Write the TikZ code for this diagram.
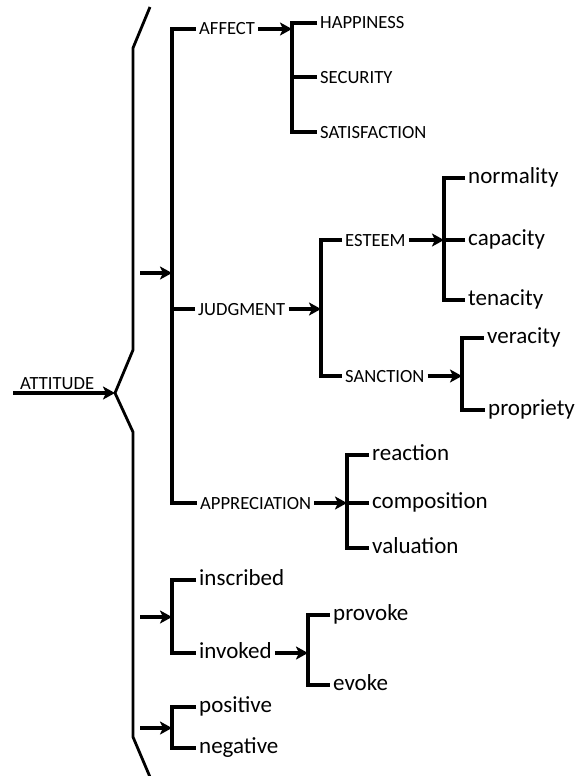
\documentclass[tikz,border=0pt]{standalone}
\usepackage{fontspec}
\setmainfont{Carlito}
\usetikzlibrary{arrows.meta}
\begin{document}
\begin{tikzpicture}[x=1pt,y=-1pt,
  br/.style={line width=3.3pt},
  arr/.style={line width=3.3pt,-{Stealth[length=12pt,width=13pt,inset=3pt]}},
  bracestroke/.style={line width=2.8pt},
  capslbl/.style={anchor=west,inner xsep=3pt,inner ysep=0pt,
    font=\fontsize{18.6}{20}\selectfont,text height=12pt,text depth=0pt},
  lowlbl/.style={anchor=west,inner xsep=3pt,inner ysep=0pt,
    font=\fontsize{23}{26}\selectfont,text height=10.7pt,text depth=0pt},
]
\path[use as bounding box] (0,0) rectangle (578,776);

% vertical positions of the bracket spines
\coordinate (mainbar) at (172,0);
\coordinate (bA) at (292,0);
\coordinate (bJ) at (321,0);
\coordinate (bE) at (444,0);
\coordinate (bS) at (462,0);
\coordinate (bP) at (347,0);
\coordinate (bV) at (308,0);

% labels
\node[capslbl,anchor=base west] (att) at (17,389) {ATTITUDE};
\node[capslbl] (affect) at (196,29) {AFFECT};
\node[capslbl] (judg) at (195,309) {JUDGMENT};
\node[capslbl] (appr) at (197,503) {APPRECIATION};
\node[capslbl] (hap) at (317,23) {HAPPINESS};
\node[capslbl] (sec) at (317,77) {SECURITY};
\node[capslbl] (sat) at (317,132) {SATISFACTION};
\node[capslbl] (est) at (342,240) {ESTEEM};
\node[capslbl] (sanc) at (342,376) {SANCTION};
\node[lowlbl] (norm) at (465,178) {normality};
\node[lowlbl] (capa) at (465,240) {capacity};
\node[lowlbl] (ten) at (465,300) {tenacity};
\node[lowlbl] (ver) at (484,338) {veracity};
\node[lowlbl] (prop) at (485,410) {propriety};
\node[lowlbl] (reac) at (369,455) {reaction};
\node[lowlbl] (comp) at (369,503) {composition};
\node[lowlbl] (val) at (369,548) {valuation};
\node[lowlbl] (insc) at (196,580) {inscribed};
\node[lowlbl] (invo) at (196,653) {invoked};
\node[lowlbl] (prov) at (330,615) {provoke};
\node[lowlbl] (evok) at (330,685) {evoke};
\node[lowlbl] (pos) at (196,707) {positive};
\node[lowlbl] (neg) at (196,748) {negative};

% big opening brace with the ATTITUDE entry arrow
\coordinate (attin) at (13,393);
\coordinate (tip) at (115,393);
\draw[arr] (attin) -- (tip);
\draw[bracestroke] (150,7) -- (133,48) -- (133,350) -- (tip) -- (133,432)
  -- (133,737) -- (150,777);

% arrows entering the three systems
\coordinate (inA) at (140,273);
\coordinate (inB) at (140,617);
\coordinate (inC) at (140,728);
\draw[arr] (inA) -- (inA -| mainbar);
\draw[arr] (inB) -- (inB -| mainbar);
\draw[arr] (inC) -- (inC -| mainbar);

% AFFECT / JUDGMENT / APPRECIATION
\draw[br] (affect.west) -- (affect.west -| mainbar) |- (appr.west);
\draw[br] (judg.west) -- (judg.west -| mainbar);

% affect
\draw[arr] (affect.east) -- (affect.east -| bA);
\draw[br] (hap.west) -- (hap.west -| bA) |- (sat.west);
\draw[br] (sec.west) -- (sec.west -| bA);

% judgment
\draw[arr] (judg.east) -- (judg.east -| bJ);
\draw[br] (est.west) -- (est.west -| bJ) |- (sanc.west);
\draw[arr] (est.east) -- (est.east -| bE);
\draw[br] (norm.west) -- (norm.west -| bE) |- (ten.west);
\draw[br] (capa.west) -- (capa.west -| bE);
\draw[arr] (sanc.east) -- (sanc.east -| bS);
\draw[br] (ver.west) -- (ver.west -| bS) |- (prop.west);

% appreciation
\draw[arr] (appr.east) -- (appr.east -| bP);
\draw[br] (reac.west) -- (reac.west -| bP) |- (val.west);
\draw[br] (comp.west) -- (comp.west -| bP);

% inscribed / invoked
\draw[br] (insc.west) -- (insc.west -| mainbar) |- (invo.west);
\draw[arr] (invo.east) -- (invo.east -| bV);
\draw[br] (prov.west) -- (prov.west -| bV) |- (evok.west);

% positive / negative
\draw[br] (pos.west) -- (pos.west -| mainbar) |- (neg.west);
\end{tikzpicture}
\end{document}
